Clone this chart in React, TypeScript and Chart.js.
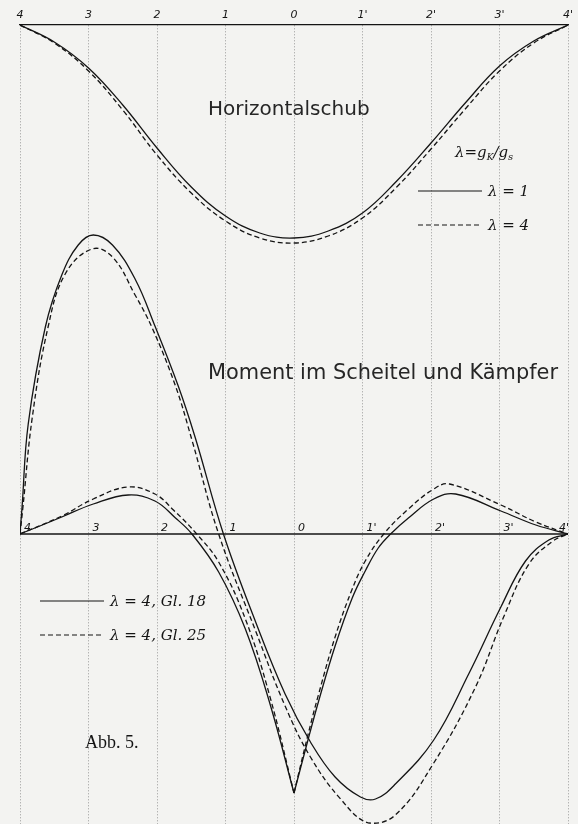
import React, { useEffect, useRef } from 'react';
import { Chart, registerables } from 'chart.js';

Chart.register(...registerables);

// Load positions along the span (left springing 4 ... crown 0 ... right springing 4')
const stationValues = [-4, -3, -2, -1, 0, 1, 2, 3, 4];
const stationLabels = ['4', '3', '2', '1', '0', "1'", "2'", "3'", "4'"];

// Horizontalschub (horizontal thrust), relative units, plotted downward from the top axis
const hX = [-4, -3.5, -3, -2.5, -2, -1.5, -1, -0.5, 0, 0.5, 1, 1.5, 2, 2.5, 3, 3.5, 4];
const hLambda1 = [0, 17, 43, 80, 123, 162, 191, 208, 213, 206, 188, 156, 118, 78, 41, 16, 0];
const hLambda4 = [0, 18, 46, 85, 130, 168, 196, 213, 218, 211, 193, 162, 124, 84, 46, 18, 0];

// Moment im Kämpfer (springing moment), relative units above/below the lower axis
const kX18 = [-4, -3.97, -3.88, -3.63, -3.39, -3.15, -2.93, -2.65, -2.32, -2.03, -1.69, -1.44, -1.03, -0.56, -0.13, 0.24, 0.6, 0.97, 1.19, 1.48, 2.04, 2.55, 3.02, 3.38, 3.72, 4];
const kGl18 = [0, 27, 110, 207, 259, 289, 299, 289, 255, 208, 148, 96, 0, -88, -160, -208, -243, -263, -265, -250, -206, -140, -73, -27, -6, 0];
const kX25 = [-4, -3.96, -3.82, -3.59, -3.34, -2.95, -2.65, -2.32, -2.07, -1.73, -1.49, -1.1, -0.56, -0.13, 0.24, 0.68, 1.09, 1.48, 2.04, 2.65, 3.06, 3.43, 3.78, 4];
const kGl25 = [0, 25, 117, 207, 260, 285, 277, 239, 206, 148, 94, 0, -97, -172, -223, -265, -289, -281, -229, -153, -83, -30, -7, 0];

// Moment im Scheitel (crown moment), split at the crown where the line has a kink
const sX18L = [-4, -3.71, -3.39, -2.93, -2.42, -2.03, -1.73, -1.49, -1.1, -0.71, -0.35, 0];
const sGl18L = [0, 8, 17, 30, 39, 33, 16, 0, -38, -95, -170, -259];
const sX18R = [0, 0.2, 0.36, 0.6, 0.85, 1.04, 1.23, 1.41, 1.67, 2.04, 2.36, 3.02, 3.53, 4];
const sGl18R = [-259, -207, -167, -112, -64, -37, -14, 0, 16, 35, 40, 23, 9, 0];
const sX25L = [-4, -3.39, -2.93, -2.42, -2.03, -1.76, -1.42, -1.1, -0.71, -0.35, 0];
const sGl25L = [0, 18, 35, 47, 40, 24, 0, -28, -85, -163, -259];
const sX25R = [0, 0.2, 0.36, 0.6, 0.85, 1.04, 1.31, 1.67, 2.04, 2.27, 3.02, 3.53, 4];
const sGl25R = [-259, -202, -160, -103, -55, -27, 0, 25, 45, 50, 29, 12, 0];

const pts = (xs: number[], ys: number[]) => xs.map((x, i) => ({ x, y: ys[i] }));

const INK = '#141414';

export default function App() {
  const ref = useRef<HTMLCanvasElement>(null);

  useEffect(() => {
    document.body.style.margin = '0';
    document.body.style.background = '#f3f3f1';
    const canvas = ref.current;
    if (!canvas) return;

    const line = (label: string, data: any[], yAxisID: string, dashed: boolean) => ({
      label,
      data,
      yAxisID,
      borderColor: INK,
      borderWidth: 1.3,
      borderDash: dashed ? [5, 3] : [],
      pointRadius: 0,
      fill: false,
      tension: 0.4,
    });

    const annotate = {
      id: 'annotate',
      afterDraw(chart: any) {
        const { ctx, chartArea: ca, scales } = chart;
        const x = scales.x;
        const y0 = scales.yM.getPixelForValue(0);
        ctx.save();
        // lower axis
        ctx.strokeStyle = INK;
        ctx.lineWidth = 1.3;
        ctx.setLineDash([]);
        ctx.beginPath();
        ctx.moveTo(x.getPixelForValue(-4), y0);
        ctx.lineTo(x.getPixelForValue(4), y0);
        ctx.stroke();
        ctx.fillStyle = INK;
        ctx.font = 'italic 11px "DejaVu Sans"';
        ctx.textBaseline = 'alphabetic';
        stationValues.forEach((v, i) => {
          const px = x.getPixelForValue(v);
          if (i === stationValues.length - 1) {
            ctx.textAlign = 'right';
            ctx.fillText(stationLabels[i], px + 1, y0 - 3);
          } else {
            ctx.textAlign = 'left';
            ctx.fillText(stationLabels[i], px + 4, y0 - 3);
          }
        });

        // titles
        ctx.textAlign = 'left';
        ctx.fillStyle = '#262626';
        ctx.font = '20px "DejaVu Sans"';
        ctx.fillText('Horizontalschub', ca.left + 188, ca.top + 90, 164);
        ctx.font = '21px "DejaVu Sans"';
        ctx.fillText('Moment im Scheitel und Kämpfer', ca.left + 188, ca.top + 354, 350);
        ctx.fillStyle = INK;

        // legend for Horizontalschub
        const lx = ca.left + 435;
        let cx = lx;
        const draw = (t: string, f: string, dy: number) => {
          ctx.font = f;
          ctx.fillText(t, cx, ca.top + 132 + dy);
          cx += ctx.measureText(t).width;
        };
        draw('λ=', 'italic 15px "DejaVu Serif"', 0);
        draw('g', 'italic 15px "DejaVu Serif"', 0);
        draw('K', 'italic 9px "DejaVu Serif"', 3);
        draw('/g', 'italic 15px "DejaVu Serif"', 0);
        draw('s', 'italic 10px "DejaVu Serif"', 3);

        const legLine = (x1: number, x2: number, y: number, dashed: boolean) => {
          ctx.setLineDash(dashed ? [5, 3] : []);
          ctx.lineWidth = 1.2;
          ctx.beginPath();
          ctx.moveTo(x1, y);
          ctx.lineTo(x2, y);
          ctx.stroke();
          ctx.setLineDash([]);
        };
        ctx.font = 'italic 15px "DejaVu Serif"';
        legLine(ca.left + 398, ca.left + 462, ca.top + 166, false);
        ctx.fillText('λ = 1', ca.left + 468, ca.top + 171);
        legLine(ca.left + 398, ca.left + 462, ca.top + 200, true);
        ctx.fillText('λ = 4', ca.left + 468, ca.top + 205);

        // legend for moments
        legLine(ca.left + 20, ca.left + 84, ca.top + 576, false);
        ctx.fillText('λ = 4, Gl. 18', ca.left + 90, ca.top + 581);
        legLine(ca.left + 20, ca.left + 84, ca.top + 610, true);
        ctx.fillText('λ = 4, Gl. 25', ca.left + 90, ca.top + 615);

        // figure caption
        ctx.font = '18px "Liberation Serif"';
        ctx.fillText('Abb. 5.', ca.left + 65, ca.top + 723);
        ctx.restore();
      },
    };

    const chart = new Chart(canvas, {
      type: 'line',
      data: {
        datasets: [
          line('Horizontalschub λ = 1', pts(hX, hLambda1), 'yH', false),
          line('Horizontalschub λ = 4', pts(hX, hLambda4), 'yH', true),
          line('Kämpfer λ = 4, Gl. 18', pts(kX18, kGl18), 'yM', false),
          line('Kämpfer λ = 4, Gl. 25', pts(kX25, kGl25), 'yM', true),
          line('Scheitel λ = 4, Gl. 18', pts(sX18L, sGl18L), 'yM', false),
          line('Scheitel λ = 4, Gl. 18 ', pts(sX18R, sGl18R), 'yM', false),
          line('Scheitel λ = 4, Gl. 25', pts(sX25L, sGl25L), 'yM', true),
          line('Scheitel λ = 4, Gl. 25 ', pts(sX25R, sGl25R), 'yM', true),
        ],
      },
      options: {
        animation: false,
        responsive: true,
        maintainAspectRatio: false,
        layout: { padding: { left: 20, right: 10, top: 0, bottom: 0 } },
        plugins: { legend: { display: false }, tooltip: { enabled: false } },
        scales: {
          x: {
            type: 'linear',
            position: 'top',
            min: -4,
            max: 4,
            afterFit: (s: any) => {
              s.height = 25;
            },
            ticks: {
              stepSize: 1,
              autoSkip: false,
              maxRotation: 0,
              padding: 3,
              color: INK,
              font: { family: 'DejaVu Sans', size: 11, style: 'italic' },
              callback: (v: any) => stationLabels[stationValues.indexOf(Number(v))] ?? '',
            },
            grid: { color: '#999999', lineWidth: 1, drawTicks: false },
            border: { display: true, color: INK, width: 1.3, dash: [1, 2] },
          },
          yH: { display: false, reverse: true, min: 0, max: 799 },
          yM: { display: false, min: -290, max: 509 },
        },
      },
      plugins: [annotate],
    } as any);

    return () => chart.destroy();
  }, []);

  return (
    <div style={{ position: 'relative', width: '578px', height: '824px' }}>
      <canvas ref={ref} />
    </div>
  );
}
